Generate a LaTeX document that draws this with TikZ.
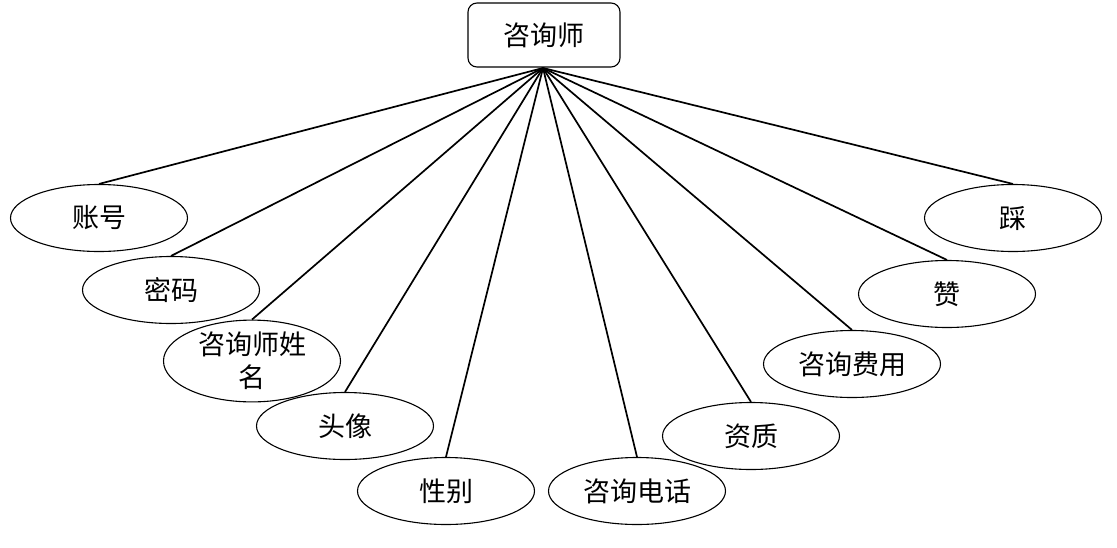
\documentclass[tikz,border=0pt]{standalone}
\usepackage{fontspec}
\newfontfamily\cjk{Noto Sans CJK SC}
\usetikzlibrary{shapes.geometric}
\begin{document}
\begin{tikzpicture}[x=1pt,y=-1pt,
  attr/.style={ellipse,draw,line width=1.1pt,minimum width=177pt,minimum height=67pt,inner sep=0pt,font=\cjk\fontsize{27}{33}\selectfont,align=center},
  ent/.style={rectangle,rounded corners=9pt,draw,line width=1.1pt,minimum width=152pt,minimum height=64pt,font=\cjk\fontsize{27}{30}\selectfont},
  link/.style={line width=1.7pt}]
\useasboundingbox (0,0) rectangle (1117,547);
\node[ent] (e) at (544,35) {咨询师};
\coordinate (hub) at (543,68);
\node[attr] (a1) at (99,218) {账号};
\node[attr] (a2) at (171,290) {密码};
\node[attr] (a3) at (252,361) {咨询师姓\\名};
\node[attr] (a4) at (345,426) {头像};
\node[attr] (a5) at (446,491) {性别};
\node[attr] (a6) at (637,491) {咨询电话};
\node[attr] (a7) at (751,436) {资质};
\node[attr] (a8) at (852,364) {咨询费用};
\node[attr] (a9) at (947,294) {赞};
\node[attr] (a10) at (1013,218) {踩};
\foreach \n in {a1,a2,a3,a4,a5,a6,a7,a8,a9,a10}
  \draw[link] (hub) -- (\n.north);
\end{tikzpicture}
\end{document}
